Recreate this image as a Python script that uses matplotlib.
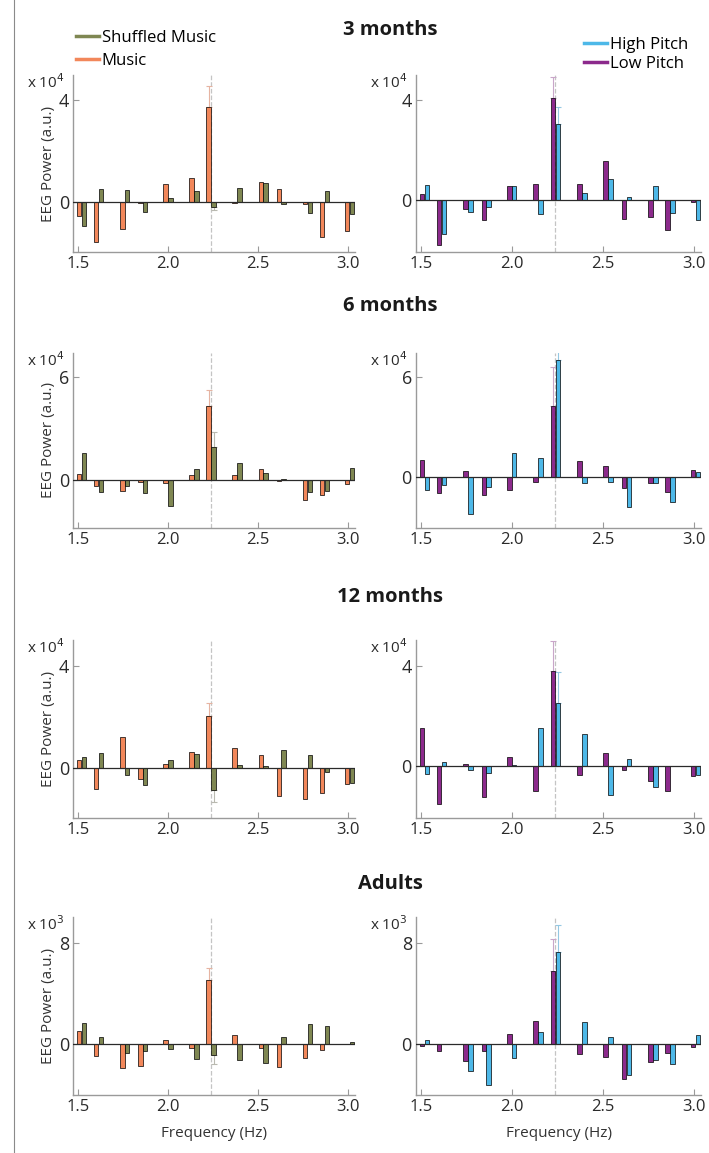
import numpy as np
import matplotlib
matplotlib.use("Agg")
import matplotlib.pyplot as plt
from matplotlib.lines import Line2D

plt.rcParams["font.family"] = ["Open Sans", "DejaVu Sans"]

# frequency bins (Hz), same for every panel
FREQS = np.array([1.52, 1.615, 1.76, 1.86, 2.0, 2.145, 2.24,
                  2.385, 2.53, 2.63, 2.775, 2.87, 3.01])
PEAK = 6  # index of the 2.24 Hz bin that carries error bars
TARGET_HZ = 2.24

GROUPS = ["3 months", "6 months", "12 months", "Adults"]
SCALE_LABELS = ["x 10$^4$", "x 10$^4$", "x 10$^4$", "x 10$^3$"]
YTICKS = [[0, 4], [0, 6], [0, 4], [0, 8]]

# music vs shuffled music (left column)
music = [
    [-0.52, -1.57, -1.04, -0.02, 0.73, 0.97, 3.74, -0.03, 0.79, 0.52, -0.08, -1.38, -1.12],
    [0.32, -0.37, -0.64, -0.10, -0.20, 0.29, 4.33, 0.27, 0.62, -0.08, -1.17, -0.90, -0.23],
    [0.31, -0.82, 1.22, -0.42, 0.16, 0.63, 2.03, 0.79, 0.52, -1.08, -1.20, -0.95, -0.60],
    [1.06, -0.90, -1.91, -1.70, 0.37, -0.32, 5.11, 0.74, -0.26, -1.77, -1.09, -0.42, 0.05],
]
shuffled = [
    [-0.92, 0.51, 0.49, -0.37, 0.18, 0.43, -0.17, 0.58, 0.76, -0.08, -0.41, 0.46, -0.47],
    [1.56, -0.72, -0.33, -0.78, -1.52, 0.64, 1.91, 1.01, 0.43, 0.06, -0.70, -0.66, 0.68],
    [0.46, 0.61, -0.26, -0.66, 0.31, 0.57, -0.85, 0.14, 0.10, 0.73, 0.51, -0.13, -0.57],
    [1.72, 0.61, -0.66, -0.50, -0.34, -1.17, -0.82, -1.22, -1.46, 0.58, 1.62, 1.48, 0.20],
]
music_err = [0.81, 0.91, 0.52, 0.96]
shuffled_err = [0.13, 0.88, 0.45, 0.77]

# low vs high pitch (right column)
low_pitch = [
    [0.21, -1.80, -0.36, -0.81, 0.54, 0.63, 4.07, 0.63, 1.57, -0.79, -0.68, -1.21, -0.08],
    [1.01, -0.95, 0.36, -1.07, -0.76, -0.28, 4.27, 0.95, 0.64, -0.66, -0.38, -0.87, 0.43],
    [1.52, -1.50, 0.08, -1.25, 0.34, -0.99, 3.80, -0.37, 0.50, -0.16, -0.61, -0.98, -0.40],
    [-0.16, -0.50, -1.30, -0.56, 0.85, 1.85, 5.83, -0.79, -1.01, -2.75, -1.43, -0.69, -0.24],
]
high_pitch = [
    [0.58, -1.38, -0.50, -0.28, 0.54, -0.58, 3.02, 0.28, 0.82, 0.12, 0.54, -0.52, -0.83],
    [-0.78, -0.50, -2.18, -0.62, 1.43, 1.17, 7.06, -0.38, -0.32, -1.82, -0.38, -1.48, 0.33],
    [-0.30, 0.15, -0.17, -0.26, 0.04, 1.52, 2.52, 1.29, -1.16, 0.29, -0.83, 0.0, -0.34],
    [0.34, 0.03, -2.09, -3.21, -1.09, 0.95, 7.36, 1.80, 0.58, -2.44, -1.25, -1.59, 0.72],
]
low_err = [0.83, 2.37, 1.18, 2.54]
high_err = [0.68, 0.90, 1.22, 2.10]

C_MUSIC, C_SHUF = "#f2875a", "#7f8752"
C_LOW, C_HIGH = "#8c2a8c", "#4db8e8"
E_MUSIC, E_SHUF = "#e6b4a2", "#b9b9b0"
E_LOW, E_HIGH = "#c9a6c9", "#94c8e2"

W, H = 709, 1153
ROWS = [(75, 252), (353, 528), (640, 818), (917, 1095)]
COLS = [(73.3, 355), (416, 701)]
YLIMS = [[(-1.95, 5.0), (-2.1, 5.0)],
         [(-2.8, 7.4), (-3.05, 7.45)],
         [(-1.93, 5.0), (-2.07, 5.02)],
         [(-4.03, 10.1), (-4.03, 10.1)]]
TITLE_Y = [30, 306, 597, 884]

fig = plt.figure(figsize=(W / 100, H / 100), dpi=100)
fig.add_artist(Line2D([14 / W, 14 / W], [0, 1], color="#8a8a8a", lw=0.8))


def panel(ax, a, b, ea, eb, ca, cb, eca, ecb, ylim, yticks, scale):
    off, bw = 0.0135, 0.025
    ax.axvline(TARGET_HZ, color="#c4c4c4", ls="--", lw=0.9, zorder=0)
    for vals, err, c, ec, dx in ((a, ea, ca, eca, -off), (b, eb, cb, ecb, off)):
        v = vals[PEAK]
        yerr = [[0], [err]] if v >= 0 else [[err], [0]]
        ax.errorbar(FREQS[PEAK] + dx, v, yerr=yerr, color=ec, lw=0.8,
                    capsize=2, capthick=0.8, zorder=1)
        ax.bar(FREQS + dx, vals, width=bw, color=c, edgecolor="black",
               linewidth=0.5, zorder=2)
    ax.axhline(0, color="#2a2a2a", lw=0.9, zorder=3)
    ax.set_xlim(1.474, 3.04)
    ax.set_ylim(*ylim)
    ax.set_xticks([1.5, 2.0, 2.5, 3.0])
    ax.set_xticklabels(["1.5", "2.0", "2.5", "3.0"])
    ax.set_yticks(yticks)
    ax.set_yticklabels([str(t) for t in yticks])
    for s in ("top", "right"):
        ax.spines[s].set_visible(False)
    for s in ("left", "bottom"):
        ax.spines[s].set_color("#9a9a9a")
        ax.spines[s].set_linewidth(1.0)
    ax.tick_params(direction="in", length=4, color="#9a9a9a",
                   labelcolor="#2a2a2a", pad=3)
    ax.tick_params(axis="y", labelsize=13)
    ax.tick_params(axis="x", labelsize=12)
    ax.text(-0.03, 0.955, scale, transform=ax.transAxes, ha="right",
            va="center", fontsize=11, color="#2a2a2a")


for r in range(4):
    top, bot = ROWS[r]
    axes = []
    for c in range(2):
        l, rr = COLS[c]
        ax = fig.add_axes([l / W, 1 - bot / H, (rr - l) / W, (bot - top) / H])
        axes.append(ax)
    panel(axes[0], music[r], shuffled[r], music_err[r], shuffled_err[r],
          C_MUSIC, C_SHUF, E_MUSIC, E_SHUF, YLIMS[r][0], YTICKS[r], SCALE_LABELS[r])
    panel(axes[1], low_pitch[r], high_pitch[r], low_err[r], high_err[r],
          C_LOW, C_HIGH, E_LOW, E_HIGH, YLIMS[r][1], YTICKS[r], SCALE_LABELS[r])
    axes[0].set_ylabel("EEG Power (a.u.)", fontsize=11, color="#333333", labelpad=2)
    if r == 3:
        for ax in axes:
            ax.set_xlabel("Frequency (Hz)", fontsize=11, color="#333333", labelpad=8)
    fig.text(390 / W, 1 - TITLE_Y[r] / H, GROUPS[r], ha="center", va="center",
             fontsize=14.5, fontweight="bold", color="#1a1a1a")

leg_kw = dict(frameon=False, fontsize=12, handlelength=1.4, handletextpad=0.15,
              labelspacing=0.3, borderaxespad=0, borderpad=0)
fig.legend([Line2D([], [], color=C_SHUF, lw=2.5), Line2D([], [], color=C_MUSIC, lw=2.5)],
           ["Shuffled Music", "Music"], loc="upper left",
           bbox_to_anchor=(76 / W, 1 - 30 / H), **dict(leg_kw, labelspacing=0.4))
fig.legend([Line2D([], [], color=C_HIGH, lw=2.5), Line2D([], [], color=C_LOW, lw=2.5)],
           ["High Pitch", "Low Pitch"], loc="upper left",
           bbox_to_anchor=(584 / W, 1 - 37 / H), **dict(leg_kw, labelspacing=0.15))

fig.savefig("out.png", dpi=100)
